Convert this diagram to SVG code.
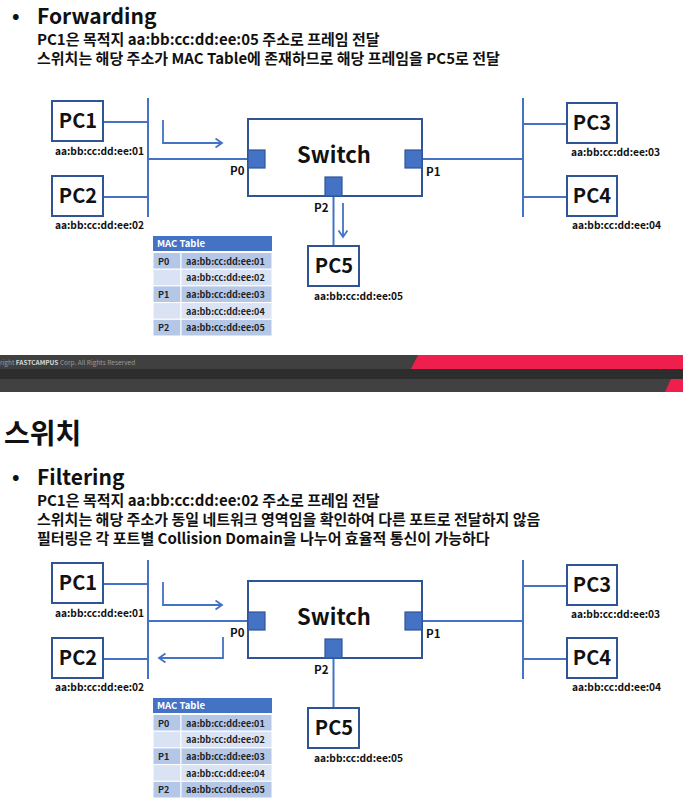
<svg xmlns="http://www.w3.org/2000/svg" width="683" height="804" viewBox="0 0 683 804">
  <style>
    text { font-family: "Noto Sans CJK KR", "Noto Sans", sans-serif; fill: #111; }
    .bullet { font-size: 20px; font-weight: bold; }
    .head { font-size: 21px; font-weight: bold; }
    .title { font-size: 28px; font-weight: bold; }
    .desc { font-size: 15px; font-weight: bold; }
    .box { fill: #fff; stroke: #2F5597; stroke-width: 2; }
    .port { fill: #4472C4; stroke: #2F5597; stroke-width: 1.2; }
    .pc { font-size: 20px; font-weight: bold; text-anchor: middle; }
    .sw { font-size: 22px; font-weight: bold; text-anchor: middle; }
    .mac { font-size: 10.2px; font-weight: bold; }
    .plbl { font-size: 11.5px; font-weight: bold; }
    .wire { stroke: #4472C4; stroke-width: 2; fill: none; }
    .flow { stroke: #4472C4; stroke-width: 1.8; fill: none; marker-end: url(#chev); }
    .th { fill: #4472C4; }
    .dark { fill: #B4C7E7; stroke: #fff; stroke-width: 1; }
    .light { fill: #DAE3F3; stroke: #fff; stroke-width: 1; }
    .tht { font-size: 9.5px; font-weight: bold; fill: #fff; }
    .td { font-size: 9px; font-weight: bold; fill: #222; }
    .foot { font-size: 6.5px; fill: #9a9a9a; }
  </style>
  <defs>
    <marker id="chev" markerUnits="userSpaceOnUse" markerWidth="10" markerHeight="12" refX="7" refY="5" orient="auto">
      <path d="M0.5,0.5 L7,5 L0.5,9.5" fill="none" stroke="#4472C4" stroke-width="1.8"/>
    </marker>

    <!-- MAC address table, drawn at the origin of the table -->
    <g id="mactable">
      <rect class="th" x="0" y="0" width="119" height="15"/>
      <text class="tht" x="4" y="11">MAC Table</text>
      <rect class="dark" x="0" y="16.5" width="28" height="16.7"/>
      <rect class="dark" x="28" y="16.5" width="91" height="16.7"/>
      <rect class="light" x="0" y="33.2" width="28" height="16.7"/>
      <rect class="light" x="28" y="33.2" width="91" height="16.7"/>
      <rect class="dark" x="0" y="49.9" width="28" height="16.7"/>
      <rect class="dark" x="28" y="49.9" width="91" height="16.7"/>
      <rect class="light" x="0" y="66.6" width="28" height="16.7"/>
      <rect class="light" x="28" y="66.6" width="91" height="16.7"/>
      <rect class="dark" x="0" y="83.3" width="28" height="16.7"/>
      <rect class="dark" x="28" y="83.3" width="91" height="16.7"/>
      <text class="td" x="5" y="28.5">P0</text>
      <text class="td" x="33" y="28.5">aa:bb:cc:dd:ee:01</text>
      <text class="td" x="33" y="45.2">aa:bb:cc:dd:ee:02</text>
      <text class="td" x="5" y="61.9">P1</text>
      <text class="td" x="33" y="61.9">aa:bb:cc:dd:ee:03</text>
      <text class="td" x="33" y="78.6">aa:bb:cc:dd:ee:04</text>
      <text class="td" x="5" y="95.3">P2</text>
      <text class="td" x="33" y="95.3">aa:bb:cc:dd:ee:05</text>
    </g>
  </defs>

  <rect width="683" height="804" fill="#fff"/>

  <!-- ===== Forwarding ===== -->
  <g id="forwarding-text">
    <text class="bullet" x="12" y="23">•</text>
    <text class="head" x="37" y="24">Forwarding</text>
    <text class="desc" x="37" y="45">PC1은 목적지 aa:bb:cc:dd:ee:05 주소로 프레임 전달</text>
    <text class="desc" x="37" y="64">스위치는 해당 주소가 MAC Table에 존재하므로 해당 프레임을 PC5로 전달</text>
  </g>

  <g id="fwd-connectors">
    <path class="wire" d="M148,98 V217 M103,122 H148 M103,197 H148 M148,159 H248"/>
    <path class="wire" d="M523,98 V217 M523,124 H567 M523,197 H567 M422,159 H523"/>
    <path class="wire" d="M333.5,196 V246"/>
    <path class="flow" d="M163,120 V143 H222"/>
    <path class="flow" d="M343,203 V237"/>
  </g>

  <g id="fwd-switch">
    <rect class="box" x="248" y="119" width="174" height="77"/>
    <text class="sw" x="334" y="163">Switch</text>
    <rect class="port" x="248" y="150" width="17" height="18"/>
    <rect class="port" x="405" y="150" width="17" height="18"/>
    <rect class="port" x="325" y="177" width="17" height="19"/>
    <text class="plbl" x="230" y="175">P0</text>
    <text class="plbl" x="426" y="176">P1</text>
    <text class="plbl" x="314" y="212">P2</text>
  </g>
  <g id="fwd-pc1">
    <rect class="box" x="52" y="101" width="51" height="40"/>
    <text class="pc" x="78" y="128">PC1</text>
    <text class="mac" x="55" y="155">aa:bb:cc:dd:ee:01</text>
  </g>
  <g id="fwd-pc2">
    <rect class="box" x="52" y="176" width="51" height="40"/>
    <text class="pc" x="78" y="203">PC2</text>
    <text class="mac" x="55" y="229">aa:bb:cc:dd:ee:02</text>
  </g>
  <g id="fwd-pc3">
    <rect class="box" x="567" y="103" width="50" height="40"/>
    <text class="pc" x="592" y="130">PC3</text>
    <text class="mac" x="571" y="156">aa:bb:cc:dd:ee:03</text>
  </g>
  <g id="fwd-pc4">
    <rect class="box" x="567" y="176" width="50" height="40"/>
    <text class="pc" x="592" y="203">PC4</text>
    <text class="mac" x="572" y="229">aa:bb:cc:dd:ee:04</text>
  </g>
  <g id="fwd-pc5">
    <rect class="box" x="308" y="246" width="51" height="40"/>
    <text class="pc" x="334" y="273">PC5</text>
    <text class="mac" x="314" y="300">aa:bb:cc:dd:ee:05</text>
  </g>
  <g id="fwd-mactable">
    <use href="#mactable" x="153" y="236"/>
  </g>

  <!-- ===== footer band ===== -->
  <g id="footer">
    <rect x="0" y="355" width="683" height="14" fill="#404040"/>
    <rect x="0" y="369" width="683" height="10" fill="#2d2d2d"/>
    <rect x="0" y="379" width="683" height="13" fill="#414141"/>
    <polygon points="418,355 683,355 683,369 411,369" fill="#EE1F4C"/>
    <polygon points="671,379 683,379 683,392 665,392" fill="#EE1F4C"/>
    <text class="foot" x="0" y="365">right <tspan font-weight="bold" fill="#d8d8d8">FASTCAMPUS</tspan> Corp. All Rights Reserved</text>
  </g>

  <!-- ===== Filtering ===== -->
  <g id="filtering-text">
    <text class="title" x="4" y="444">스위치</text>
    <text class="bullet" x="12" y="484">•</text>
    <text class="head" x="37" y="485">Filtering</text>
    <text class="desc" x="37" y="506">PC1은 목적지 aa:bb:cc:dd:ee:02 주소로 프레임 전달</text>
    <text class="desc" x="37" y="525">스위치는 해당 주소가 동일 네트워크 영역임을 확인하여 다른 포트로 전달하지 않음</text>
    <text class="desc" x="37" y="544">필터링은 각 포트별 Collision Domain을 나누어 효율적 통신이 가능하다</text>
  </g>

  <g id="flt-connectors" transform="translate(0,462)">
    <path class="wire" d="M148,98 V217 M103,122 H148 M103,197 H148 M148,159 H248"/>
    <path class="wire" d="M523,98 V217 M523,124 H567 M523,197 H567 M422,159 H523"/>
    <path class="wire" d="M333.5,196 V246"/>
    <path class="flow" d="M163,120 V143 H222"/>
    <path class="flow" d="M223,175 V196 H159"/>
  </g>

  <g id="flt-switch" transform="translate(0,462)">
    <rect class="box" x="248" y="119" width="174" height="77"/>
    <text class="sw" x="334" y="163">Switch</text>
    <rect class="port" x="248" y="150" width="17" height="18"/>
    <rect class="port" x="405" y="150" width="17" height="18"/>
    <rect class="port" x="325" y="177" width="17" height="19"/>
    <text class="plbl" x="230" y="175">P0</text>
    <text class="plbl" x="426" y="176">P1</text>
    <text class="plbl" x="314" y="212">P2</text>
  </g>
  <g id="flt-pc1" transform="translate(0,462)">
    <rect class="box" x="52" y="101" width="51" height="40"/>
    <text class="pc" x="78" y="128">PC1</text>
    <text class="mac" x="55" y="155">aa:bb:cc:dd:ee:01</text>
  </g>
  <g id="flt-pc2" transform="translate(0,462)">
    <rect class="box" x="52" y="176" width="51" height="40"/>
    <text class="pc" x="78" y="203">PC2</text>
    <text class="mac" x="55" y="229">aa:bb:cc:dd:ee:02</text>
  </g>
  <g id="flt-pc3" transform="translate(0,462)">
    <rect class="box" x="567" y="103" width="50" height="40"/>
    <text class="pc" x="592" y="130">PC3</text>
    <text class="mac" x="571" y="156">aa:bb:cc:dd:ee:03</text>
  </g>
  <g id="flt-pc4" transform="translate(0,462)">
    <rect class="box" x="567" y="176" width="50" height="40"/>
    <text class="pc" x="592" y="203">PC4</text>
    <text class="mac" x="572" y="229">aa:bb:cc:dd:ee:04</text>
  </g>
  <g id="flt-pc5" transform="translate(0,462)">
    <rect class="box" x="308" y="246" width="51" height="40"/>
    <text class="pc" x="334" y="273">PC5</text>
    <text class="mac" x="314" y="300">aa:bb:cc:dd:ee:05</text>
  </g>
  <g id="flt-mactable">
    <use href="#mactable" x="153" y="698"/>
  </g>
</svg>
